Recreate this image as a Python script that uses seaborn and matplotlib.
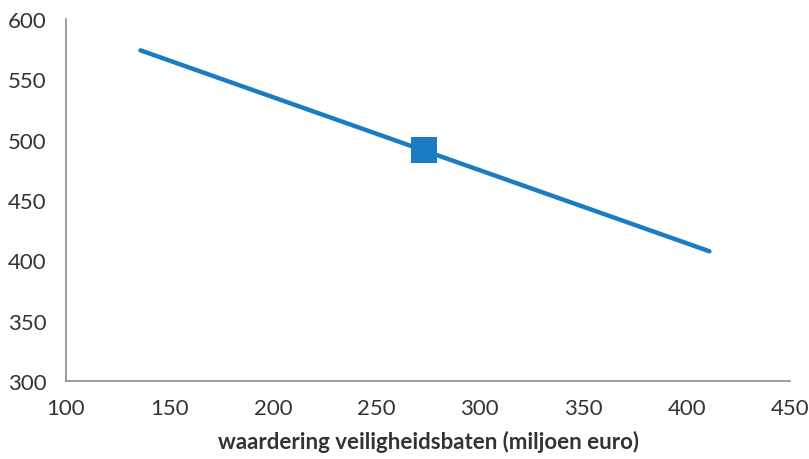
import matplotlib
matplotlib.use("Agg")
import matplotlib.pyplot as plt
import pandas as pd
import seaborn as sns

# values
line_x = [136, 273, 411]
line_y = [574, 491, 407.5]
point_x = [273]
point_y = [491]
xticks = [100, 150, 200, 250, 300, 350, 400, 450]
yticks = [300, 350, 400, 450, 500, 550, 600]

sns.set_style("white")
plt.rcParams["font.family"] = ["Lato", "DejaVu Sans"]

blue = "#1b7cc4"
df_line = pd.DataFrame({"x": line_x, "y": line_y})
df_point = pd.DataFrame({"x": point_x, "y": point_y})

fig = plt.figure(figsize=(8.09, 4.6), dpi=100)
ax = fig.add_axes([0.0816, 0.1696, 0.895, 0.787])

sns.lineplot(data=df_line, x="x", y="y", ax=ax, color=blue, linewidth=3.2)
sns.scatterplot(data=df_point, x="x", y="y", ax=ax, color=blue, marker="s",
                s=19 ** 2, linewidth=0, zorder=5)

ax.set_xlim(100, 450)
ax.set_ylim(300, 600)
ax.set_xticks(xticks)
ax.set_yticks(yticks)
ax.tick_params(length=0, labelsize=16, colors="#333333")
ax.tick_params(axis="x", pad=12)
ax.tick_params(axis="y", pad=14)
ax.set_xlabel("waardering veiligheidsbaten (miljoen euro)", fontsize=16,
              fontweight="bold", color="#333333", labelpad=9)
ax.set_ylabel("")

for side in ["top", "right"]:
    ax.spines[side].set_visible(False)
for side in ["left", "bottom"]:
    ax.spines[side].set_color("#8c8c8c")
    ax.spines[side].set_linewidth(1.2)

fig.savefig("out.png", dpi=100)
